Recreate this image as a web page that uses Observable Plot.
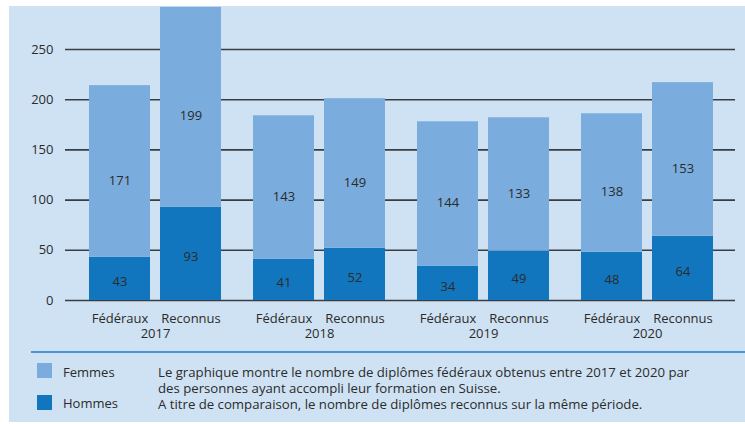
<!DOCTYPE html>
<html>
<head>
<meta charset="utf-8">
<script src="https://cdn.jsdelivr.net/npm/d3@7"></script>
<script src="https://cdn.jsdelivr.net/npm/@observablehq/plot@0.6"></script>
<style>
  html, body { margin: 0; padding: 0; background: #ffffff; }
  body { width: 745px; height: 424px; position: relative; overflow: hidden; font-family: "Open Sans", sans-serif; color: #2b2b2b; }
  #bg { position: absolute; left: 9px; top: 6px; width: 736px; height: 416px; background: #cfe2f3; }
  #grid, #chart { position: absolute; left: 0; top: 0; }
  #sep { position: absolute; left: 31px; top: 351px; width: 714px; height: 1.5px; background: #4d92d2; }
  .sw { position: absolute; left: 37px; width: 15px; height: 15px; }
  .lab { position: absolute; left: 63px; font-size: 13px; line-height: 15.5px; white-space: nowrap; }
  .desc { position: absolute; left: 158px; font-size: 13.2px; line-height: 15px; white-space: nowrap; }
</style>
</head>
<body>
<div id="bg"></div>
<div id="grid"></div>
<div id="chart"></div>
<div id="sep"></div>
<div class="sw" id="swF" style="top:363px;"></div>
<div class="lab" id="labF" style="top:365px;"></div>
<div class="sw" id="swH" style="top:395px;"></div>
<div class="lab" id="labH" style="top:396px;"></div>
<div id="descBox"></div>
<script>
const years = ["2017", "2018", "2019", "2020"];
const types = ["Fédéraux", "Reconnus"];
const sexes = ["Femmes", "Hommes"];
const colors = ["#7aaddd", "#1276be"];
// order: for each year, Fédéraux then Reconnus
const hommes = [43, 93, 41, 52, 34, 49, 48, 64];
const femmes = [171, 199, 143, 149, 144, 133, 138, 153];
const yTicks = [0, 50, 100, 150, 200, 250];
const descLines = [
  "Le graphique montre le nombre de diplômes fédéraux obtenus entre 2017 et 2020 par",
  "des personnes ayant accompli leur formation en Suisse.",
  "A titre de comparaison, le nombre de diplômes reconnus sur la même période."
];

const rows = [];
years.forEach((year, i) => {
  types.forEach((type, j) => {
    const k = i * types.length + j;
    rows.push({year, type, sexe: "Hommes", value: hommes[k]});
    rows.push({year, type, sexe: "Femmes", value: femmes[k]});
  });
});

const common = {
  width: 745,
  height: 345,
  marginTop: 6,
  marginBottom: 45,
  style: {fontFamily: "Open Sans, sans-serif", fontSize: "13px", background: "transparent", color: "#2b2b2b"},
  y: {domain: [0, 250], range: [300, 49], label: null}
};

// background layer: gridlines and y axis across the whole frame
const gridPlot = Plot.plot({
  ...common,
  marginLeft: 65,
  marginRight: 10,
  marks: [
    Plot.ruleY(yTicks, {stroke: "#383d44", strokeWidth: 1.6}),
    Plot.axisY({ticks: yTicks, tickSize: 0, tickPadding: 12, label: null})
  ]
});
document.getElementById("grid").appendChild(gridPlot);

// foreground layer: faceted stacked bars
const plot = Plot.plot({
  ...common,
  marginLeft: 87,
  marginRight: 31,
  fx: {domain: years, paddingInner: 0.198, paddingOuter: 0, label: null},
  x: {domain: types, paddingInner: 0.141, paddingOuter: 0, label: null},
  color: {domain: sexes, range: colors},
  marks: [
    Plot.barY(rows, {fx: "year", x: "type", y: "value", fill: "sexe"}),
    Plot.text(rows, Plot.stackY({fx: "year", x: "type", y: "value",
      text: d => d.sexe === "Hommes" ? String(d.value) : null, dy: 3, fill: "#2b2b2b"})),
    Plot.text(rows, Plot.stackY({fx: "year", x: "type", y: "value",
      text: d => d.sexe === "Femmes" ? String(d.value) : null, dy: 9, fill: "#2b2b2b"})),
    Plot.axisY({ticks: [], tickSize: 0, label: null}),
    Plot.axisX({tickSize: 0, tickPadding: 13, label: null}),
    Plot.axisFx({anchor: "bottom", tickSize: 0, tickPadding: 28, label: null})
  ]
});
document.getElementById("chart").appendChild(plot);

document.getElementById("swF").style.background = colors[0];
document.getElementById("swH").style.background = colors[1];
document.getElementById("labF").textContent = sexes[0];
document.getElementById("labH").textContent = sexes[1];
const descTops = [365, 381, 397];
const box = document.getElementById("descBox");
descLines.forEach((t, i) => {
  const d = document.createElement("div");
  d.className = "desc";
  d.style.top = descTops[i] + "px";
  d.textContent = t;
  box.appendChild(d);
});
</script>
</body>
</html>
